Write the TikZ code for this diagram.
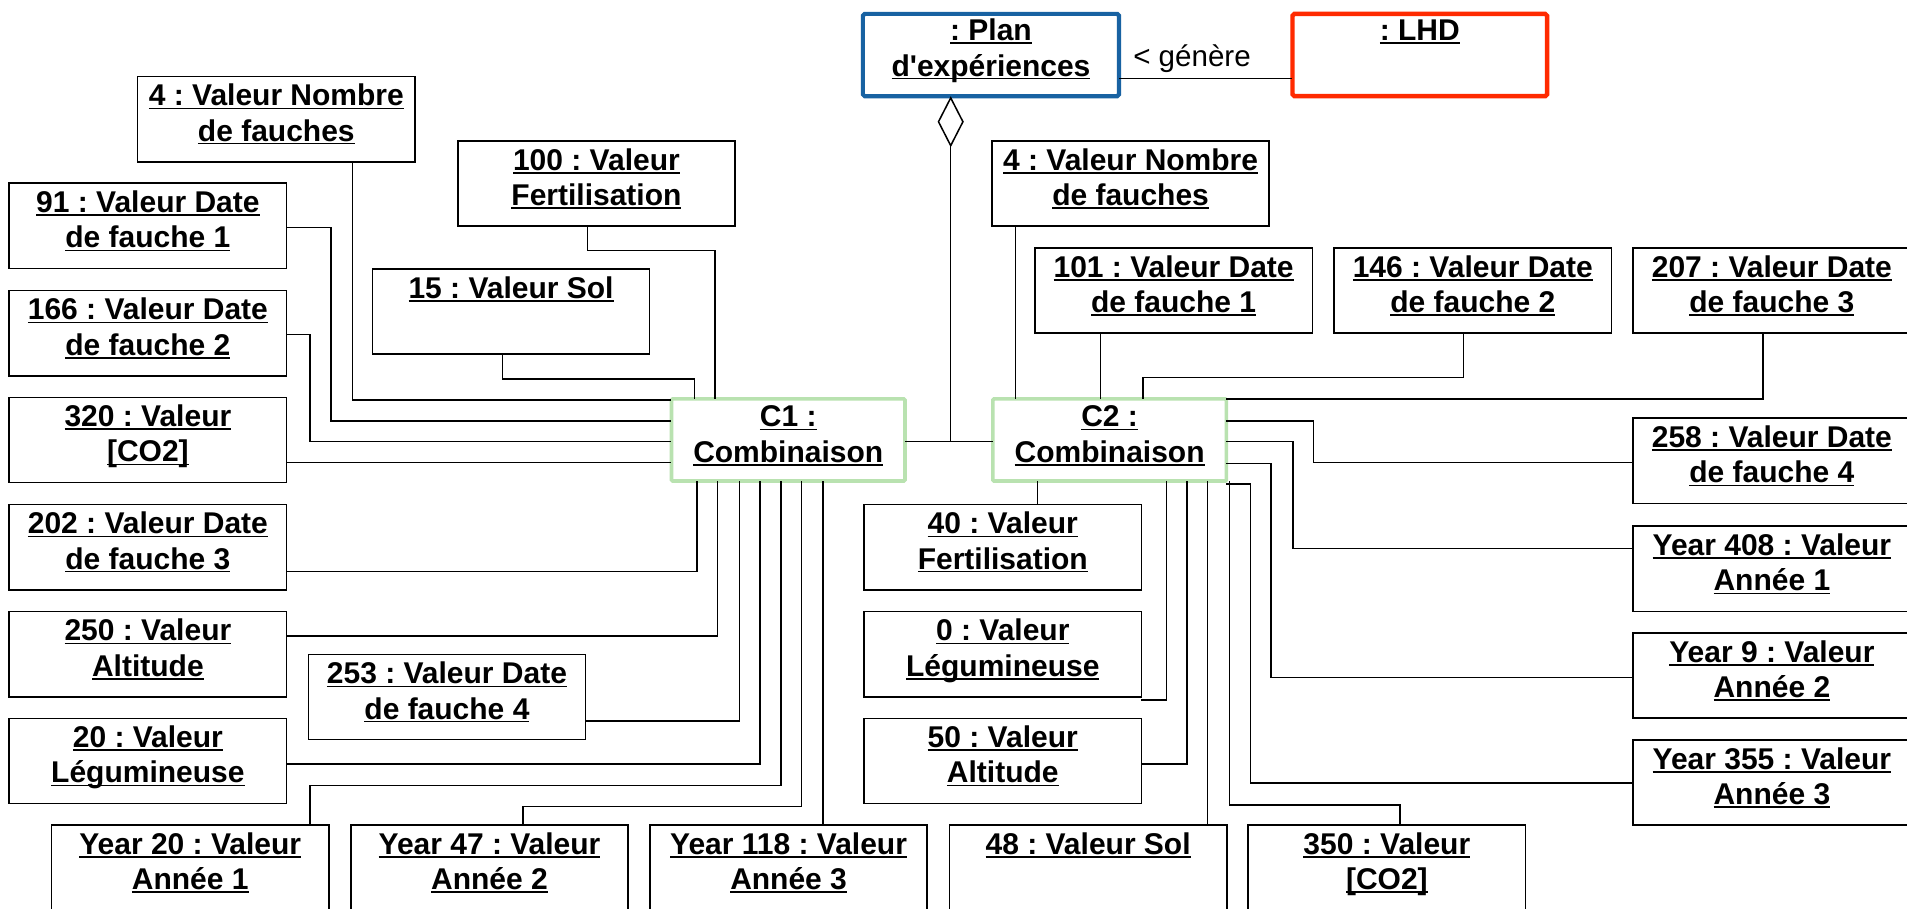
\documentclass[tikz,border=0pt]{standalone}
\usepackage{fontspec}
\setmainfont{Liberation Sans}
\usetikzlibrary{arrows.meta}
\definecolor{planblue}{HTML}{1862A2}
\definecolor{lhdred}{HTML}{FF2A00}
\definecolor{combgreen}{HTML}{B9E2B0}
\frenchspacing
\newcommand\lblfont{\fontsize{24.66}{29}\selectfont\bfseries}
\newcommand\genfont{\fontsize{24.3}{29}\selectfont}
\newsavebox\ulxbox
\newcommand\ulx[1]{\sbox\ulxbox{#1}\rlap{\vrule height -1.5pt depth 2.8pt width \wd\ulxbox}\usebox\ulxbox}
\newcommand\mkobj[5]{%
  \node[obj] (#1) at (#2,{#3+35.5}) {};
  \node[lbl] (#1-a) at (#2,{#3+24.5}) {\ulx{#4}};
  \node[lbl] (#1-b) at (#2,{#3+53.5}) {\ulx{#5}};}
\newcommand\mkobjone[4]{%
  \node[obj] (#1) at (#2,{#3+35.5}) {};
  \node[lbl] (#1-a) at (#2,{#3+24.5}) {\ulx{#4}};}
\tikzset{
  obj/.style={draw=black, line width=1.3pt, fill=white, minimum width=228pt, minimum height=70pt, inner sep=0pt, outer sep=0pt},
  planbox/.style={draw=planblue, line width=3.4pt, rounded corners=1.5pt, fill=white, minimum width=210.6pt, minimum height=67.7pt, inner sep=0pt, outer sep=0pt},
  lhdbox/.style={draw=lhdred, line width=3.6pt, rounded corners=1.5pt, fill=white, minimum width=209.4pt, minimum height=67.6pt, inner sep=0pt, outer sep=0pt},
  comb/.style={draw=combgreen, line width=3pt, rounded corners=1pt, fill=white, minimum width=192pt, minimum height=67.5pt, inner sep=0pt, outer sep=0pt},
  lbl/.style={anchor=base, inner sep=0pt, font=\lblfont},
  gen/.style={anchor=base west, inner sep=0pt, font=\genfont},
  conn/.style={draw=black, line width=1.25pt},
}
\begin{document}
\begin{tikzpicture}[x=1pt, y=-1pt]
\useasboundingbox (0,0) rectangle (1568,747);
\fill[white] (0,0) rectangle (1568,747);
\clip (0,0) rectangle (1568,747);

% top objects
\node[planbox] (plan) at (814.8,45.25) {};
\node[lbl] (plan-a) at (814.8,33.4) {\ulx{: Plan}};
\node[lbl] (plan-b) at (814.8,62.5) {\ulx{d\textquotesingle expériences}};
\node[lhdbox] (lhd) at (1167.4,45.25) {};
\node[lbl] (lhd-a) at (1167.4,33.4) {\ulx{: LHD}};
\node[gen] (gentxt) at (931.6,55) {< génère};

% combinations
\node[comb] (C1) at (648.1,361.75) {};
\node[lbl] (C1-a) at (648.1,351) {\ulx{C1 :}};
\node[lbl] (C1-b) at (648.1,380) {\ulx{Combinaison}};
\node[comb] (C2) at (912.35,361.75) {};
\node[lbl] (C2-a) at (912.35,351) {\ulx{C2 :}};
\node[lbl] (C2-b) at (912.35,380) {\ulx{Combinaison}};

% C1 values
\mkobj{nbL}{227.2}{62.5}{4 : Valeur Nombre}{de fauches}
\mkobj{fA}{490.4}{115.4}{100 : Valeur}{Fertilisation}
\mkobj{dA}{121.6}{150.2}{91 : Valeur Date}{de fauche 1}
\mkobjone{solA}{420.2}{220.7}{15 : Valeur Sol}
\mkobj{dB}{121.6}{238.5}{166 : Valeur Date}{de fauche 2}
\mkobj{coA}{121.6}{326.2}{320 : Valeur}{[CO2]}
\mkobj{dC}{121.6}{414.4}{202 : Valeur Date}{de fauche 3}
\mkobj{altA}{121.6}{502.4}{250 : Valeur}{Altitude}
\mkobj{dD}{367.5}{537.7}{253 : Valeur Date}{de fauche 4}
\mkobj{legA}{121.6}{590.1}{20 : Valeur}{Légumineuse}
\mkobj{yA}{156.4}{678}{Year 20 : Valeur}{Année 1}
\mkobj{yB}{402.5}{678}{Year 47 : Valeur}{Année 2}
\mkobj{yC}{648.4}{678}{Year 118 : Valeur}{Année 3}

% C2 values
\mkobjone{solB}{894.7}{678}{48 : Valeur Sol}
\mkobj{coB}{1140.3}{678}{350 : Valeur}{[CO2]}
\mkobj{fB}{824.5}{414.4}{40 : Valeur}{Fertilisation}
\mkobj{legB}{824.5}{502.4}{0 : Valeur}{Légumineuse}
\mkobj{altB}{824.5}{590.1}{50 : Valeur}{Altitude}
\mkobj{nbR}{929.6}{115.4}{4 : Valeur Nombre}{de fauches}
\mkobj{dE}{965}{203.4}{101 : Valeur Date}{de fauche 1}
\mkobj{dF}{1211}{203.4}{146 : Valeur Date}{de fauche 2}
\mkobj{dG}{1456.9}{203.4}{207 : Valeur Date}{de fauche 3}
\mkobj{dH}{1456.9}{343.4}{258 : Valeur Date}{de fauche 4}
\mkobj{yD}{1456.9}{432.2}{Year 408 : Valeur}{Année 1}
\mkobj{yE}{1456.9}{519.9}{Year 9 : Valeur}{Année 2}
\mkobj{yF}{1456.9}{607.9}{Year 355 : Valeur}{Année 3}

% association and aggregation
\draw[conn] (plan.east |- 0,64.4) -- (lhd.west |- 0,64.4);
\coordinate (agg) at (781.7,363);
\draw[conn] (C1.east |- 0,363) -- (C2.west |- 0,363);
\draw[conn, -{Diamond[open, length=42pt, width=21.5pt]}] (agg) -- (plan.south -| agg);

% C1 links
\draw[conn] (nbL.south -| 290,0) |- (C1.west |- 0,329);
\draw[conn] (dA.east |- 0,187) -| (272,346) -- (C1.west |- 0,346);
\draw[conn] (dB.east |- 0,275) -| (255,363) -- (C1.west |- 0,363);
\draw[conn] (coA.east |- 0,380.4) -- (C1.west |- 0,380.4);
\draw[conn] (fA.south -| 483,0) |- (588,206) -- (C1.north -| 588,0);
\draw[conn] (solA.south -| 413,0) |- (571,311.7) -- (C1.north -| 571,0);
\draw[conn] (dC.east |- 0,470) -| (C1.south -| 573,0);
\draw[conn] (altA.east |- 0,523) -| (C1.south -| 590,0);
\draw[conn] (dD.east |- 0,593) -| (C1.south -| 608,0);
\draw[conn] (legA.east |- 0,628) -| (C1.south -| 625,0);
\draw[conn] (yA.north -| 255,0) |- (642,646) -- (C1.south -| 642,0);
\draw[conn] (yB.north -| 430,0) |- (659,663) -- (C1.south -| 659,0);
\draw[conn] (yC.north -| 676.5,0) -- (C1.south -| 676.5,0);

% C2 links
\draw[conn] (nbR.south -| 835,0) -- (C2.north -| 835,0);
\draw[conn] (dE.south -| 904.8,0) -- (C2.north -| 904.8,0);
\draw[conn] (dF.south -| 1203.3,0) |- (940,310.3) -- (C2.north -| 940,0);
\draw[conn] (dG.south -| 1449.4,0) |- (C2.north east);
\draw[conn] (C2.east |- 0,346) -| (1080,380.4) -- (dH.west |- 0,380.4);
\draw[conn] (C2.east |- 0,363) -| (1063,451) -- (yD.west |- 0,451);
\draw[conn] (C2.east |- 0,381) -| (1045,557) -- (yE.west |- 0,557);
\draw[conn] (C2.east |- 0,398) -| (1028,644) -- (yF.west |- 0,644);
\draw[conn] (C2.south -| 1011,0) |- (1151,662) -- (coB.north -| 1151,0);
\draw[conn] (C2.south -| 993,0) -- (solB.north -| 993,0);
\draw[conn] (C2.south -| 976,0) |- (altB.east |- 0,628);
\draw[conn] (C2.south -| 959,0) |- (legB.east |- 0,575.5);
\draw[conn] (C2.south -| 853,0) -- (fB.north -| 853,0);
\end{tikzpicture}
\end{document}
